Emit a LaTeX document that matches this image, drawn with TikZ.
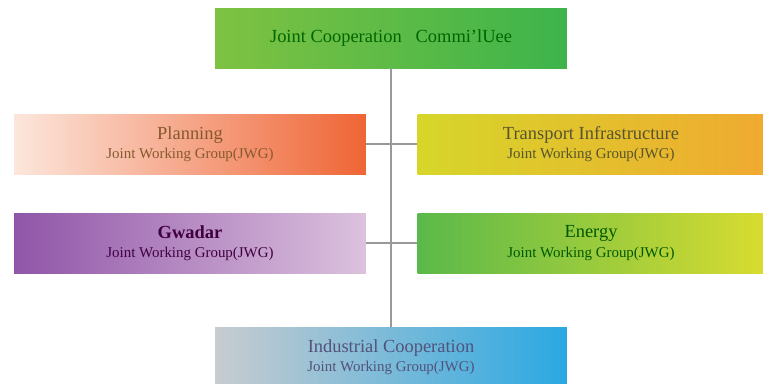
\documentclass[tikz,border=0pt]{standalone}
\usepackage{fontspec}
\setmainfont{Liberation Serif}
\usepackage{tikz}
\usetikzlibrary{positioning}
\definecolor{jccL}{HTML}{7EC242}
\definecolor{jccR}{HTML}{3DB44B}
\definecolor{planL}{HTML}{FCE6DC}
\definecolor{planR}{HTML}{EF6535}
\definecolor{transL}{HTML}{D6D62A}
\definecolor{transR}{HTML}{F0AA30}
\definecolor{gwaL}{HTML}{9055A8}
\definecolor{gwaR}{HTML}{DCC2DE}
\definecolor{enL}{HTML}{5AB94A}
\definecolor{enR}{HTML}{D8DC30}
\definecolor{indL}{HTML}{C8CCD0}
\definecolor{indR}{HTML}{2AA8E2}
\tikzset{
    jwgbox/.style={
        rectangle,
        minimum width=7.04cm,
        minimum height=1.2cm,
        inner sep=1pt,
        align=center,
        font=\fontsize{10.5}{12}\selectfont
    },
    link/.style={
        draw=gray!80,
        line width=0.8pt
    }
}
\newcommand{\jwgsub}{\\[-1pt]{\fontsize{8.5}{10}\selectfont Joint\ Working\ Group(JWG)}}

\begin{document}
\begin{tikzpicture}[x=0.02cm, y=-0.02cm]
    \useasboundingbox (0,0) rectangle (763,383);

    % Committee and working groups
    \node[jwgbox, left color=jccL, right color=jccR, text=green!40!black] (jcc) at (391,38) {Joint\ Cooperation\ \ \ Commi'lUee};
    \node[jwgbox, left color=planL, right color=planR, text=brown!70!black] (plan) at (190,144) {Planning\jwgsub};
    \node[jwgbox, minimum width=6.94cm, left color=transL, right color=transR, text=olive!50!black] (trans) at (591,144) {Transport Infrastructure\jwgsub};
    \node[jwgbox, left color=gwaL, right color=gwaR, text=violet!50!black] (gwa) at (190,243) {\textbf{Gwadar}\jwgsub};
    \node[jwgbox, minimum width=6.94cm, left color=enL, right color=enR, text=green!35!black] (energy) at (591,243) {Energy\jwgsub};
    \node[jwgbox, left color=indL, right color=indR, text=blue!20!gray!80!black] (ind) at (391,357) {Industrial Cooperation\jwgsub};

    % Connecting lines
    \draw[link] (jcc) -- (ind);
    \draw[link] (plan) -- (trans);
    \draw[link] (gwa) -- (energy);
\end{tikzpicture}
\end{document}
